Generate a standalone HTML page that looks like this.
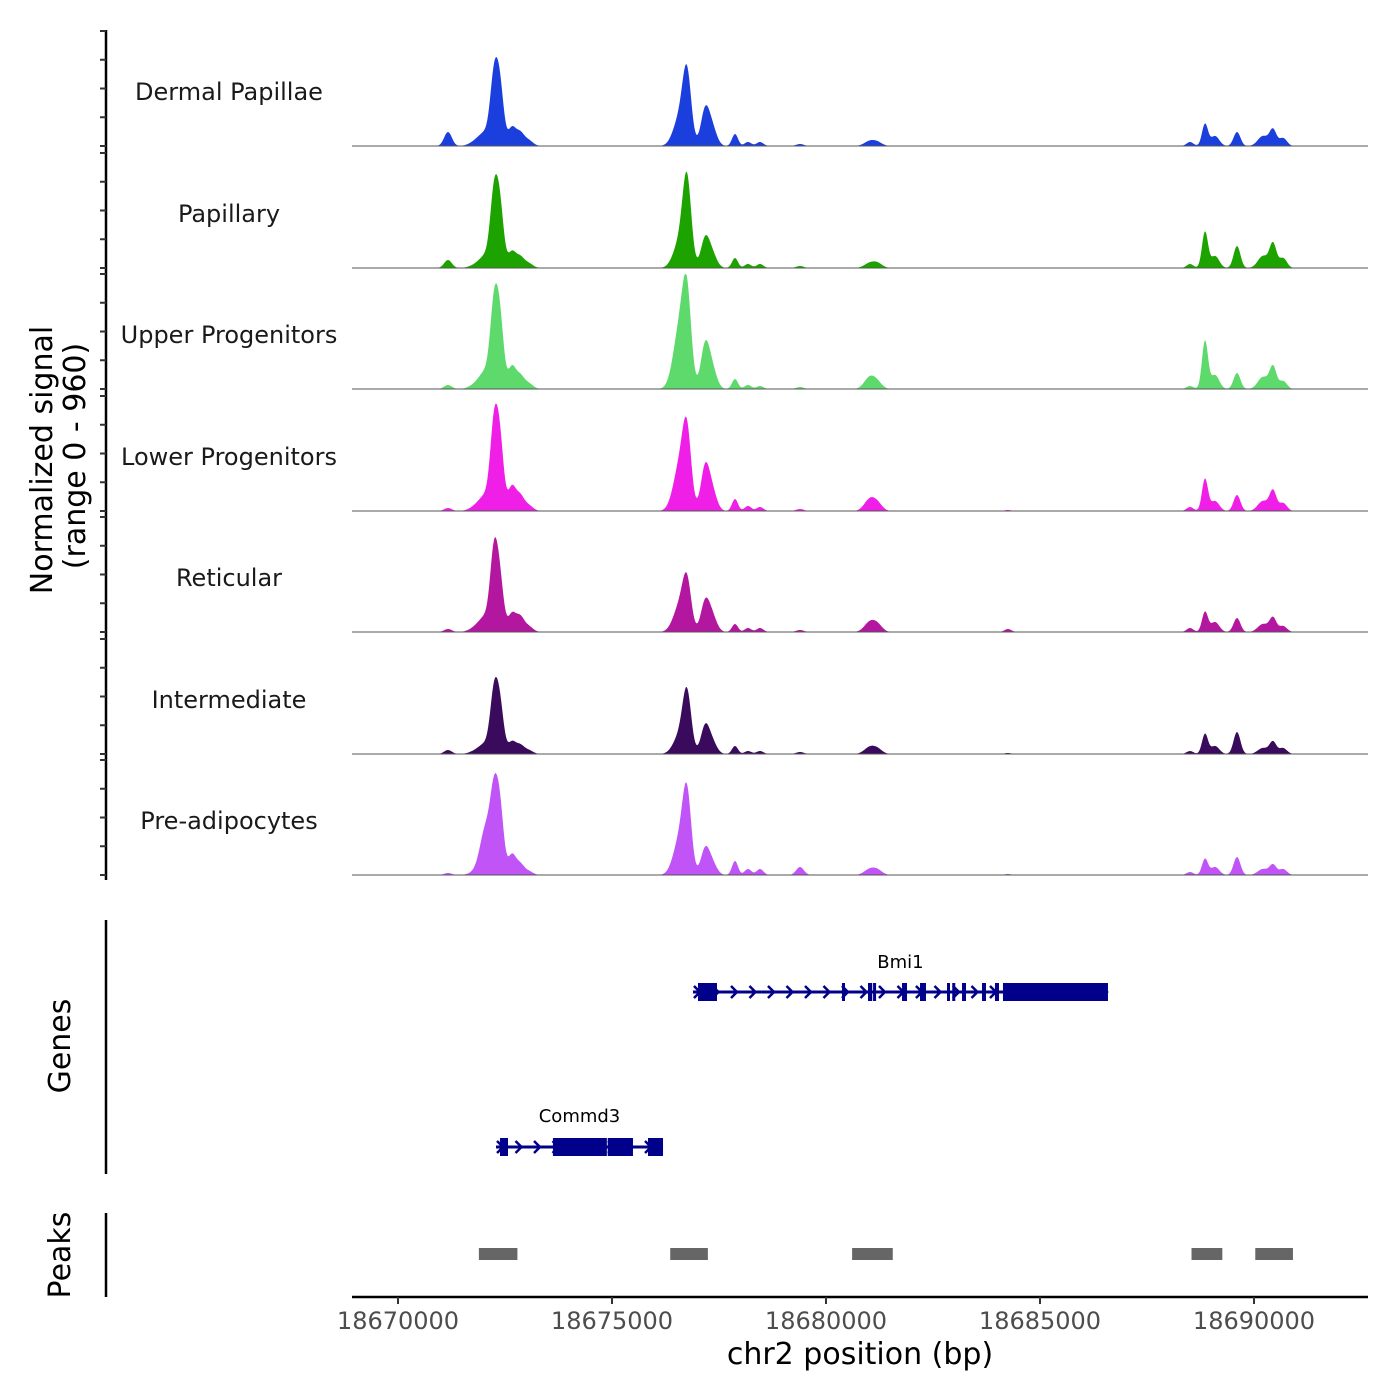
<!DOCTYPE html>
<html><head><meta charset="utf-8"><style>
html,body{margin:0;padding:0;background:#fff}
svg{display:block;font-family:"DejaVu Sans","Liberation Sans",sans-serif}
</style></head><body>
<svg id="chart" width="1400" height="1400" viewBox="0 0 1400 1400" xmlns="http://www.w3.org/2000/svg">
<g id="tracks"></g>
<g id="genes"></g>
<g id="peaks"></g>
<g id="axes"></g>
<text transform="translate(52,460) rotate(-90)" text-anchor="middle" font-size="30" fill="#000">Normalized signal</text>
<text transform="translate(85,456) rotate(-90)" text-anchor="middle" font-size="30" fill="#000">(range 0 - 960)</text>
<text transform="translate(70,1046) rotate(-90)" text-anchor="middle" font-size="30" fill="#000">Genes</text>
<text transform="translate(70,1255) rotate(-90)" text-anchor="middle" font-size="30" fill="#000">Peaks</text>
<text x="860" y="1364" text-anchor="middle" font-size="30" fill="#000">chr2 position (bp)</text>
</svg>
<script>
const trackNames = ["Dermal Papillae","Papillary","Upper Progenitors","Lower Progenitors","Reticular","Intermediate","Pre-adipocytes"];
const trackColors = ["#1a3fdc","#1ca300","#5dda6b","#f01fe8","#b3179f","#3a0b5c","#c054f6"];
const peakCenters = [18671168,18671869,18672056,18672243,18672383,18672664,18672850,18673037,18676589,18676752,18677173,18677336,18677874,18678178,18678458,18679393,18681028,18681215,18684252,18688505,18688855,18689089,18689603,18690210,18690444,18690678];
const peakSigmas = [90,160,130,90,90,90,90,110,150,100,100,110,70,80,80,90,130,110,80,80,70,100,80,120,80,90];
const sigDP  = [112,48,80,500,440,144,96,48,230,520,270,144,96,32,32,16,40,24,0,32,176,80,112,80,128,64];
const sigPap = [64,32,80,540,450,128,80,40,210,650,220,112,80,32,32,16,40,32,0,32,288,96,176,96,192,80];
const sigUP  = [32,48,112,600,510,176,96,48,500,620,330,160,80,32,24,16,96,40,0,24,384,112,128,96,176,64];
const sigLP  = [24,48,96,620,510,192,112,48,370,530,330,160,96,40,32,16,96,48,8,32,256,80,128,80,160,64];
const sigRet = [24,48,96,590,370,144,112,48,214,350,225,128,64,32,32,16,80,48,24,32,160,80,112,64,112,48];
const sigInt = [32,32,64,450,360,96,64,32,150,450,210,96,64,24,24,16,56,32,8,24,160,64,176,48,96,48];
const sigPre = [16,32,360,520,490,160,80,32,290,570,195,96,112,48,48,64,48,32,8,24,128,64,144,48,80,48];
const trackSignals = [sigDP,sigPap,sigUP,sigLP,sigRet,sigInt,sigPre];
const xTicks = [18670000,18675000,18680000,18685000,18690000];
const xTickLabels = ["18670000","18675000","18680000","18685000","18690000"];
const bmi1Exons = [[18677009,18677453],[18680374,18680444],[18680981,18681080],[18681100,18681168],[18681776,18681893],[18682196,18682336],[18682827,18682897],[18682950,18683000],[18683178,18683271],[18683645,18683738],[18683948,18684042],[18684135,18686588]];
const commd3Exons = [[18672383,18672570],[18673620,18674880],[18674900,18675490],[18675841,18676192]];
const peakRegions = [[18671890,18672790],[18676360,18677240],[18680610,18681560],[18688540,18689260],[18690030,18690910]];

const NS="http://www.w3.org/2000/svg";
function mk(tag, attrs, parent){const e=document.createElementNS(NS,tag);for(const k in attrs)e.setAttribute(k,attrs[k]);parent.appendChild(e);return e;}
const X0=352, X1=1368;
function xs(bp){return 398+(bp-18670000)*0.0428;}
const bpMin=18670000+(X0-398)/0.0428, bpMax=18670000+(X1-398)/0.0428;
const yMax=920, trackH=115;
const baselines=[146,268,389,511,632,754,875];

const gT=document.getElementById('tracks');
trackNames.forEach((name,t)=>{
  const g=mk('g',{},gT);
  
  
  const base=baselines[t];
  const sig=trackSignals[t];
  let d='M'+X0+','+base;
  for(let bp=bpMin; bp<=bpMax; bp+=20){
    let v=0;
    for(let i=0;i<peakCenters.length;i++){const z=(bp-peakCenters[i])/peakSigmas[i];if(Math.abs(z)<5)v+=sig[i]*Math.exp(-0.5*z*z);}
    d+=' L'+xs(bp).toFixed(2)+','+(base-Math.min(v,yMax)*trackH/yMax).toFixed(2);
  }
  d+=' L'+X1+','+base+' Z';
  const area=mk('path',{d:d,fill:trackColors[t],stroke:'none'},g);
  
  
  const bl=mk('line',{x1:X0,x2:X1,y1:base,y2:base,stroke:'#555',"stroke-width":1},g);
  
  
  const lb=mk('text',{x:229,y:base-46,"text-anchor":"middle","font-size":24,fill:"#1a1a1a"},g);
  lb.textContent=name;
  
  
});

const gA=document.getElementById('axes');
mk('line',{x1:106,x2:106,y1:30,y2:880,stroke:'#000',"stroke-width":2.5},gA);
baselines.forEach(b=>{
  for(let k=0;k<=4;k++){const y=b-trackH+k*trackH/4;mk('line',{x1:100,x2:106,y1:y,y2:y,stroke:'#333',"stroke-width":2},gA);}
});
mk('line',{x1:106,x2:106,y1:920,y2:1174,stroke:'#000',"stroke-width":2.5},gA);
mk('line',{x1:106,x2:106,y1:1213,y2:1297,stroke:'#000',"stroke-width":2.5},gA);
mk('line',{x1:X0,x2:X1,y1:1297,y2:1297,stroke:'#000',"stroke-width":2.5},gA);
xTicks.forEach((v,i)=>{
  const x=xs(v);
  mk('line',{x1:x,x2:x,y1:1297,y2:1304,stroke:'#333',"stroke-width":2},gA);
  const t=mk('text',{x:x,y:1329,"text-anchor":"middle","font-size":24,fill:"#4d4d4d"},gA);
  t.textContent=xTickLabels[i];
  
  
});

const gG=document.getElementById('genes');
function drawGene(name,start,end,exons,y,lblY){
  const g=mk('g',{},gG);
  
  
  const c='#00008b';
  mk('line',{x1:xs(start),x2:xs(end),y1:y,y2:y,stroke:c,"stroke-width":3},g);
  for(let x=xs(start)+4;x<xs(end);x+=18.5){
    mk('polyline',{points:(x-3)+','+(y-6)+' '+(x+3)+','+y+' '+(x-3)+','+(y+6),fill:'none',stroke:c,"stroke-width":2.5},g);
  }
  exons.forEach(e=>{mk('rect',{x:xs(e[0]),y:y-9,width:Math.max(3,xs(e[1])-xs(e[0])),height:18,fill:c},g);});
  const t=mk('text',{x:(xs(start)+xs(end))/2,y:lblY,"text-anchor":"middle","font-size":18,fill:"#000"},g);
  t.textContent=name;
  
  
}
drawGene('Bmi1',18676892,18686588,bmi1Exons,992,968);
drawGene('Commd3',18672290,18676192,commd3Exons,1147,1122);

const gP=document.getElementById('peaks');
peakRegions.forEach(p=>{
  const r=mk('rect',{x:xs(p[0]),y:1248,width:xs(p[1])-xs(p[0]),height:12,fill:'#666'},gP);
  
  
});
</script>
</body></html>
